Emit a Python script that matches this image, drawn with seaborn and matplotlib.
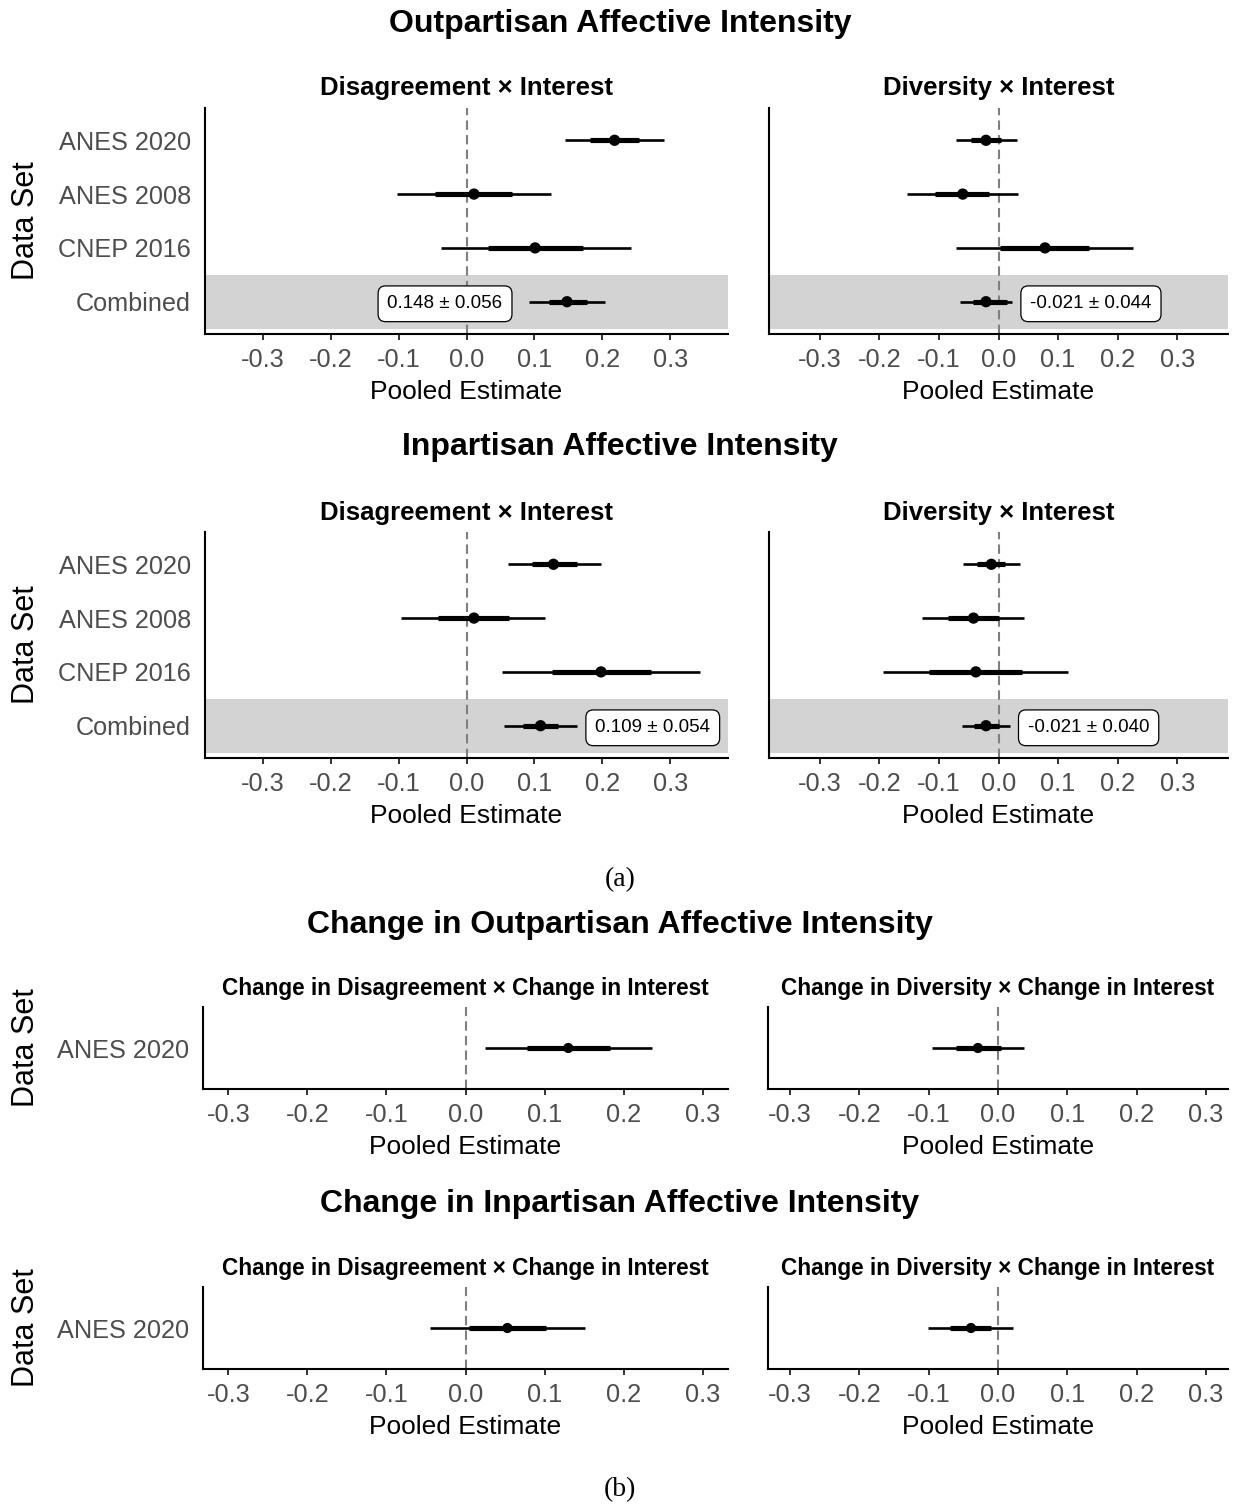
import numpy as np
import pandas as pd
import seaborn as sns
import matplotlib.pyplot as plt

# data sets, top to bottom
datasets = ["ANES 2020", "ANES 2008", "CNEP 2016", "Combined"]
change_sets = ["ANES 2020"]

# (a) outpartisan, disagreement x interest
out_dis_est = [0.218, 0.011, 0.101, 0.148]
out_dis_lo = [0.145, -0.103, -0.038, 0.092]
out_dis_hi = [0.291, 0.124, 0.242, 0.204]
out_dis_lo_in = [0.182, -0.046, 0.032, 0.121]
out_dis_hi_in = [0.254, 0.067, 0.172, 0.177]

# (a) outpartisan, diversity x interest
out_div_est = [-0.021, -0.060, 0.078, -0.021]
out_div_lo = [-0.072, -0.153, -0.072, -0.065]
out_div_hi = [0.031, 0.032, 0.226, 0.023]
out_div_lo_in = [-0.046, -0.107, 0.003, -0.042]
out_div_hi_in = [0.004, -0.016, 0.151, 0.014]

# (a) inpartisan, disagreement x interest
in_dis_est = [0.128, 0.011, 0.198, 0.109]
in_dis_lo = [0.061, -0.096, 0.053, 0.055]
in_dis_hi = [0.198, 0.116, 0.344, 0.163]
in_dis_lo_in = [0.096, -0.042, 0.126, 0.083]
in_dis_hi_in = [0.163, 0.063, 0.271, 0.135]

# (a) inpartisan, diversity x interest
in_div_est = [-0.012, -0.042, -0.038, -0.021]
in_div_lo = [-0.060, -0.128, -0.193, -0.061]
in_div_hi = [0.036, 0.043, 0.117, 0.019]
in_div_lo_in = [-0.036, -0.085, -0.116, -0.041]
in_div_hi_in = [0.011, 0.000, 0.039, 0.000]

# (b) change models, ANES 2020 only
chg_out_dis = dict(est=[0.130], lo=[0.025], hi=[0.236], lo_in=[0.078], hi_in=[0.183])
chg_out_div = dict(est=[-0.029], lo=[-0.095], hi=[0.037], lo_in=[-0.061], hi_in=[0.004])
chg_in_dis = dict(est=[0.053], lo=[-0.045], hi=[0.151], lo_in=[0.005], hi_in=[0.102])
chg_in_div = dict(est=[-0.039], lo=[-0.101], hi=[0.021], lo_in=[-0.070], hi_in=[-0.010])

combined_labels = ["0.148 \u00b1 0.056", "-0.021 \u00b1 0.044",
                   "0.109 \u00b1 0.054", "-0.021 \u00b1 0.040"]
x_ticks = [-0.3, -0.2, -0.1, 0.0, 0.1, 0.2, 0.3]

W, H = 1233, 1505
sns.set_theme(style="ticks")
plt.rcParams['font.family'] = ['Liberation Sans', 'DejaVu Sans']
plt.rcParams['axes.unicode_minus'] = False
plt.rcParams['text.color'] = 'black'
plt.rcParams['axes.labelcolor'] = 'black'

fig = plt.figure(figsize=(W / 100, H / 100), dpi=100)


def px_axes(x0, y0, x1, y1):
    return fig.add_axes([x0 / W, 1 - y1 / H, (x1 - x0) / W, (y1 - y0) / H])


def make_df(names, est, lo, hi, lo_in, hi_in):
    n = len(names)
    return pd.DataFrame({'dataset': names, 'pos': np.arange(n, 0, -1),
                         'est': est, 'lo': lo, 'hi': hi,
                         'lo_in': lo_in, 'hi_in': hi_in})


def draw_panel(ax, df, lim, ylabels, title, title_size, pt_size, label=None):
    n = len(df)
    if 'Combined' in list(df['dataset']):
        p = df.loc[df['dataset'] == 'Combined', 'pos'].iloc[0]
        ax.axhspan(p - 0.5, p + 0.5, color='#D3D3D3', lw=0, zorder=0)
    ax.axvline(0, color='#7F7F7F', lw=1.5, ls=(0, (4.5, 2.5)), zorder=1)
    ax.hlines(df['pos'], df['lo'], df['hi'], color='black', lw=1.9, zorder=2)
    ax.hlines(df['pos'], df['lo_in'], df['hi_in'], color='black', lw=3.7, zorder=3)
    sns.scatterplot(data=df, x='est', y='pos', ax=ax, color='black', s=pt_size,
                    edgecolor='none', zorder=4, legend=False)
    ax.set_xlim(-lim, lim)
    ax.set_ylim(0.4, n + 0.6)
    ax.set_xticks(x_ticks)
    ax.set_xticklabels([f"{v:.1f}" for v in x_ticks])
    ax.set_yticks(df['pos'])
    if ylabels:
        ax.set_yticklabels(df['dataset'])
    else:
        ax.set_yticklabels([])
    ax.tick_params(axis='x', length=4.5, width=1.4, color='#333333',
                   labelsize=18.3, labelcolor='#4D4D4D', pad=5.5)
    ax.tick_params(axis='y', length=0, labelsize=18.2, labelcolor='#4D4D4D', pad=10)
    ax.set_xlabel("Pooled Estimate", fontsize=19, color='black', labelpad=6)
    ax.set_ylabel("")
    ax.set_title(title, fontsize=title_size, fontweight='bold', pad=9, color='black')
    sns.despine(ax=ax)
    for s in ['left', 'bottom']:
        ax.spines[s].set_linewidth(1.5)
        ax.spines[s].set_color('black')
    if label is not None:
        row = df[df['dataset'] == 'Combined'].iloc[0]
        box = dict(boxstyle='round,pad=0.5,rounding_size=0.4', fc='white',
                   ec='black', lw=0.9)
        if row['hi'] + 0.2 < lim:
            ax.annotate(label, xy=(row['hi'], row['pos']), xytext=(13, -1.5),
                        textcoords='offset points', ha='left', va='center',
                        fontsize=13.5, bbox=box, zorder=5)
        else:
            ax.annotate(label, xy=(row['lo'], row['pos']), xytext=(-19, -1.5),
                        textcoords='offset points', ha='right', va='center',
                        fontsize=13.5, bbox=box, zorder=5)


panels_a = [
    (108, 334, make_df(datasets, out_dis_est, out_dis_lo, out_dis_hi, out_dis_lo_in, out_dis_hi_in),
     make_df(datasets, out_div_est, out_div_lo, out_div_hi, out_div_lo_in, out_div_hi_in),
     combined_labels[0], combined_labels[1]),
    (532, 758, make_df(datasets, in_dis_est, in_dis_lo, in_dis_hi, in_dis_lo_in, in_dis_hi_in),
     make_df(datasets, in_div_est, in_div_lo, in_div_hi, in_div_lo_in, in_div_hi_in),
     combined_labels[2], combined_labels[3]),
]
for top, bot, dleft, dright, lab_l, lab_r in panels_a:
    axl = px_axes(205, top, 728, bot)
    draw_panel(axl, dleft, 0.385, True, "Disagreement \u00d7 Interest", 18.5, 66, lab_l)
    axr = px_axes(769, top, 1228, bot)
    draw_panel(axr, dright, 0.385, False, "Diversity \u00d7 Interest", 18.5, 66, lab_r)
    fig.text(26 / W, 1 - (top + bot) / 2 / H, "Data Set", rotation=90,
             ha='center', va='center', fontsize=22)

panels_b = [(1007, 1089, chg_out_dis, chg_out_div), (1287, 1369, chg_in_dis, chg_in_div)]
for top, bot, dl, dr in panels_b:
    axl = px_axes(203, top, 728, bot)
    draw_panel(axl, make_df(change_sets, **dl), 0.332, True,
               "Change in Disagreement \u00d7 Change in Interest", 16.3, 54)
    axr = px_axes(768, top, 1228, bot)
    draw_panel(axr, make_df(change_sets, **dr), 0.332, False,
               "Change in Diversity \u00d7 Change in Interest", 16.3, 54)
    fig.text(26 / W, 1 - (top + bot) / 2 / H, "Data Set", rotation=90,
             ha='center', va='center', fontsize=22)

titles = [(24, "Outpartisan Affective Intensity"), (447, "Inpartisan Affective Intensity"),
          (925, "Change in Outpartisan Affective Intensity"),
          (1204, "Change in Inpartisan Affective Intensity")]
for y, t in titles:
    fig.text(620 / W, 1 - y / H, t, ha='center', va='center', fontsize=23, fontweight='bold')

for y, t in [(880, "(a)"), (1490, "(b)")]:
    fig.text(620 / W, 1 - y / H, t, ha='center', va='center', fontsize=20,
             family=['Liberation Serif', 'DejaVu Serif'])

fig.savefig("out.png", dpi=100)
